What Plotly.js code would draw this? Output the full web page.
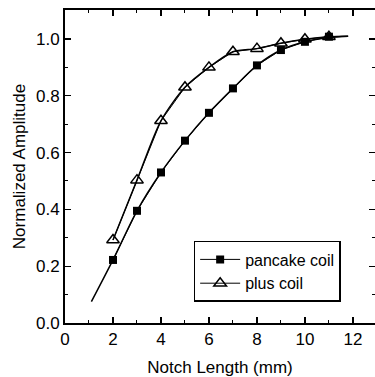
<!DOCTYPE html>
<html><head><meta charset="utf-8">
<script src="https://cdn.plot.ly/plotly-3.0.1.min.js"></script>
<style>html,body{margin:0;padding:0;background:#fff}#c{width:375px;height:377px}</style>
</head><body><div id="c"></div>
<script>
const notch = [2,3,4,5,6,7,8,9,10,11];
const pancake = [0.222,0.395,0.530,0.642,0.740,0.826,0.907,0.961,0.990,1.008];
const plus = [0.292,0.503,0.712,0.830,0.900,0.955,0.966,0.985,0.999,1.008];
const pancakeFitX = [1.1,2,3,4,5,6,7,8,9,10,11,11.8];
const pancakeFitY = [0.075,0.222,0.395,0.530,0.642,0.740,0.826,0.907,0.961,0.990,1.005,1.010];
const plusFitX = [2,3,4,5,6,7,8,9,10,11,11.8];
const plusFitY = [0.292,0.503,0.712,0.830,0.900,0.955,0.966,0.985,0.999,1.008,1.010];
const xTicks = [0,2,4,6,8,10,12];
const yTicks = [0.0,0.2,0.4,0.6,0.8,1.0];

const F = 'Liberation Sans, Arial, sans-serif';
const traces = [
 {x:pancakeFitX,y:pancakeFitY,mode:'lines',line:{color:'#000',width:1.5,shape:'spline',smoothing:0.8},showlegend:false,hoverinfo:'skip'},
 {x:plusFitX,y:plusFitY,mode:'lines',line:{color:'#000',width:1.5,shape:'spline',smoothing:0.8},showlegend:false,hoverinfo:'skip'},
 {x:notch,y:pancake,name:'pancake coil',mode:'lines+markers',line:{color:'#000',width:1},
  marker:{symbol:'square',size:8,color:'#000'}},
 {x:notch,y:plus,name:'plus coil',mode:'lines+markers',line:{color:'#000',width:1},
  marker:{symbol:'triangle-up-open',size:11,color:'#000',line:{width:1.5}}}
];
const axBase = {showline:true,linecolor:'#000',linewidth:2,mirror:'ticks',ticks:'inside',ticklen:6,tickwidth:1.3,tickcolor:'#000',
  showgrid:false,zeroline:false,tickfont:{family:F,size:17,color:'#000'}};
const layout = {
 width:375,height:377,margin:{l:65,r:0,t:10,b:54},paper_bgcolor:'#fff',plot_bgcolor:'#fff',
 font:{family:F,color:'#000'},
 xaxis:Object.assign({},axBase,{range:[0,12.92],tickvals:xTicks,ticktext:xTicks.map(String),
   minor:{ticks:'inside',ticklen:3,tickwidth:1,tickcolor:'#000',dtick:1,tick0:0},
   title:{text:'Notch Length (mm)',font:{size:17},standoff:14}}),
 yaxis:Object.assign({},axBase,{range:[0,1.102],tickvals:yTicks,ticktext:yTicks.map(v=>v.toFixed(1)),
   minor:{ticks:'inside',ticklen:3,tickwidth:1,tickcolor:'#000',dtick:0.1,tick0:0},
   title:{text:'Normalized Amplitude',font:{size:17},standoff:6}}),
 legend:{x:0.415,y:0.262,xanchor:'left',yanchor:'top',bordercolor:'#000',borderwidth:1.5,bgcolor:'#fff',
   font:{size:16,color:'#000'},tracegroupgap:0,itemwidth:40},
 showlegend:true
};
Plotly.newPlot('c',traces,layout,{displayModeBar:false,staticPlot:true});
</script></body></html>
